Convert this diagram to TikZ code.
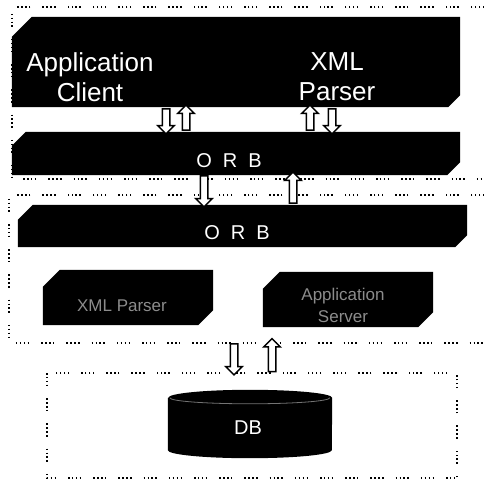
\documentclass[tikz,border=0pt]{standalone}
\usepackage{fontspec}
\setmainfont{Liberation Sans}
\usepackage{tikz}
\usetikzlibrary{shapes.arrows, positioning, calc}
\tikzset{
  blk/.style ={rectangle, inner sep=0pt},
  txt/.style ={text=white, align=center, inner sep=0pt},
  dim/.style ={text=white!55!black, align=center, inner sep=0pt, font=\fontsize{17}{22}\selectfont},
  grp/.style ={draw=black, line width=1.5pt,
               dash pattern=on 1.5pt off 2.4pt on 1.5pt off 2.4pt on 1.5pt off 2.4pt on 1.5pt off 12pt},
  harr/.style={single arrow, draw=black, fill=white, line width=1.5pt, inner sep=3pt,
               single arrow head extend=4.5pt, single arrow tip angle=90, anchor=center},
  dn/.style  ={harr, shape border rotate=270},
  up/.style  ={harr, shape border rotate=90},
}
\begin{document}
\begin{tikzpicture}[x=1pt, y=-1pt]
  \useasboundingbox (0,0) rectangle (484,481);
  % dotted groups
  \draw[grp] (484,7) -| (12,179) -- (484,179);
  \draw[grp] (484,195) -| (9,343) -- (484,343);
  \draw[grp] (47,373) rectangle (457,478);
  % blocks
  \node[blk, minimum width=448pt, minimum height=90pt] (app) at (236,62) {};
  \node[blk, minimum width=448pt, minimum height=43pt] (orb1) at (236,153.5) {};
  \node[blk, minimum width=449pt, minimum height=42pt] (orb2) at (242.5,226) {};
  \node[blk, minimum width=170pt, minimum height=55pt] (xps) at (128,297.5) {};
  \node[blk, minimum width=170pt, minimum height=55pt] (aps) at (348,299.5) {};
  \node[blk, minimum width=164pt, minimum height=68pt] (db) at (250,424) {};
  % chamfered fills
  \foreach \n/\c/\d in {app/20/12, orb1/14/13, orb2/15/12, xps/17/15, aps/17/15} {
    \fill ($(\n.north west)+(0,\c)$) -- ++(\c,-\c) -| ($(\n.south east)+(0,-\d)$)
      -- ++(-\d,\d) -| ($(\n.north west)+(0,\c)$) -- cycle;
  }
  \fill ($(db.north west)+(0,8)$) -- ($(db.south west)+(0,-8)$)
    arc[start angle=180, end angle=0, x radius=82, y radius=8]
    -- ($(db.north east)+(0,8)$)
    arc[start angle=360, end angle=180, x radius=82, y radius=8] -- cycle;
  \draw[white!45!black, line width=0.8pt] ($(db.north west)+(2,8)$)
    arc[start angle=180, end angle=0, x radius=80, y radius=6];
  % labels
  \node[txt, font=\fontsize{26}{30}\selectfont] (cli) at (90,77) {Application\\Client};
  \node[txt, font=\fontsize{26}{30}\selectfont] (xmlp) at (337,77) {XML\\Parser};
  \node[txt, font=\fontsize{20}{24}\selectfont] (orbt1) at (229,161) {O\hspace{11pt}R\hspace{11pt}B};
  \node[txt, font=\fontsize{20}{24}\selectfont] (orbt2) at (237,233) {O\hspace{11pt}R\hspace{11pt}B};
  \node[dim] (xpst) at (122,306) {XML Parser};
  \node[dim] (apst) at (343,305) {Application\\Server};
  \node[txt, font=\fontsize{20}{24}\selectfont] (dbt) at (248,428) {DB};
  % block arrows
  \node[dn, minimum height=25pt] (a1) at (166,119.5) {};
  \node[up, minimum height=25pt] (a2) at (186,119.5) {};
  \node[up, minimum height=25pt] (a3) at (310,119.5) {};
  \node[dn, minimum height=25pt] (a4) at (332,119.5) {};
  \node[dn, minimum height=31pt] (a5) at (204,189.5) {};
  \node[up, minimum height=31pt] (a6) at (293,189.5) {};
  \node[dn, minimum height=31pt] (a7) at (234,357.5) {};
  \node[up, minimum height=33pt] (a8) at (272,357) {};
\end{tikzpicture}
\end{document}
